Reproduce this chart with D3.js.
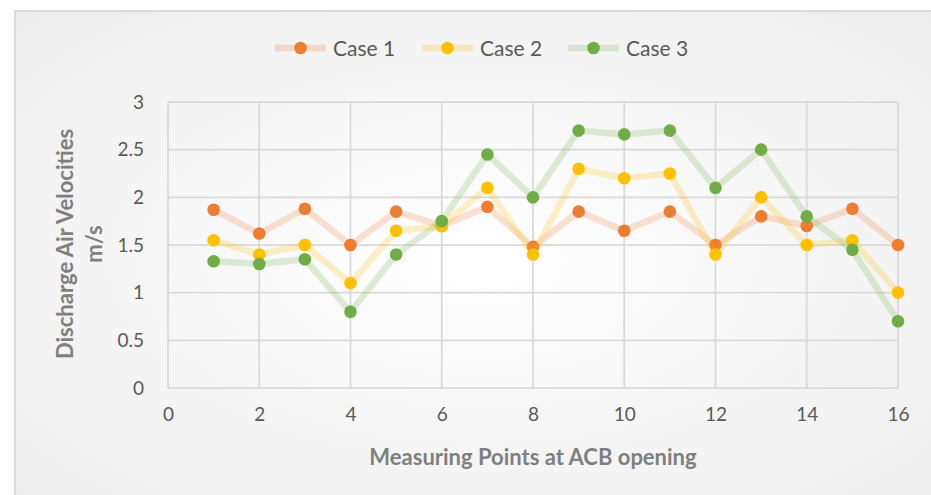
<!DOCTYPE html>
<html>
<head>
<meta charset="utf-8">
<script src="https://cdn.jsdelivr.net/npm/d3@7/dist/d3.min.js"></script>
<style>
  html, body { margin: 0; padding: 0; background: #ffffff; }
  svg { display: block; }
  text { font-family: Lato, "Open Sans", sans-serif; }
</style>
</head>
<body>
<svg id="chart" width="931" height="495"></svg>
<script>
const points = [1, 2, 3, 4, 5, 6, 7, 8, 9, 10, 11, 12, 13, 14, 15, 16];
const case1 = [1.87, 1.62, 1.88, 1.50, 1.85, 1.70, 1.90, 1.48, 1.85, 1.65, 1.85, 1.50, 1.80, 1.70, 1.88, 1.50];
const case2 = [1.55, 1.40, 1.50, 1.10, 1.65, 1.70, 2.10, 1.40, 2.30, 2.20, 2.25, 1.40, 2.00, 1.50, 1.55, 1.00];
const case3 = [1.33, 1.30, 1.35, 0.80, 1.40, 1.75, 2.45, 2.00, 2.70, 2.66, 2.70, 2.10, 2.50, 1.80, 1.45, 0.70];
const seriesNames = ["Case 1", "Case 2", "Case 3"];
const seriesColors = ["#ED7D31", "#FFC000", "#70AD47"];
const xTicks = [0, 2, 4, 6, 8, 10, 12, 14, 16];
const yTicks = [0, 0.5, 1, 1.5, 2, 2.5, 3];
const xTitle = "Measuring Points at ACB opening";
const yTitleLines = ["Discharge Air Velocities", "m/s"];

const series = [case1, case2, case3].map((vals, i) => ({
  name: seriesNames[i], color: seriesColors[i],
  values: vals.map((v, j) => ({ x: points[j], y: v }))
}));

const svg = d3.select("#chart");

// background with soft radial gradient
const defs = svg.append("defs");
const grad = defs.append("radialGradient").attr("id", "bg")
  .attr("cx", "50%").attr("cy", "50%").attr("r", "75%");
grad.append("stop").attr("offset", "0%").attr("stop-color", "#ffffff");
grad.append("stop").attr("offset", "100%").attr("stop-color", "#ececec");

svg.append("rect").attr("x", 15).attr("y", 11).attr("width", 931).attr("height", 500)
  .attr("fill", "url(#bg)").attr("stroke", "#d9d9d9").attr("stroke-width", 2);

const plot = { left: 168, right: 898, top: 102, bottom: 388 };
const x = d3.scaleLinear().domain([0, 16]).range([plot.left, plot.right]);
const y = d3.scaleLinear().domain([0, 3]).range([plot.bottom, plot.top]);

// grid
const grid = svg.append("g");
grid.selectAll(".hg").data(yTicks).enter().append("line")
  .attr("x1", plot.left).attr("x2", plot.right)
  .attr("y1", d => y(d)).attr("y2", d => y(d))
  .attr("stroke", "#d9d9d9").attr("stroke-width", 1.75);
grid.selectAll(".vg").data(xTicks).enter().append("line")
  .attr("y1", plot.top).attr("y2", plot.bottom)
  .attr("x1", d => x(d)).attr("x2", d => x(d))
  .attr("stroke", "#d9d9d9").attr("stroke-width", 1.75);

// axes (labels only)
const yAxis = d3.axisLeft(y).tickValues(yTicks).tickSize(0).tickPadding(24).tickFormat(d3.format("~g"));
const gy = svg.append("g").attr("transform", `translate(${plot.left},0)`).call(yAxis);
gy.select(".domain").remove();
gy.selectAll("text").attr("font-size", 19).attr("fill", "#595959")
  .style("font-family", "Lato, 'Open Sans', sans-serif");

const xAxis = d3.axisBottom(x).tickValues(xTicks).tickSize(0).tickPadding(20).tickFormat(d3.format("~g"));
const gx = svg.append("g").attr("transform", `translate(0,${plot.bottom})`).call(xAxis);
gx.select(".domain").remove();
gx.selectAll("text").attr("font-size", 19).attr("fill", "#595959")
  .style("font-family", "Lato, 'Open Sans', sans-serif");

// axis titles
svg.append("text").attr("x", 533).attr("y", 465).attr("text-anchor", "middle")
  .attr("font-size", 22).attr("font-weight", "bold").attr("fill", "#7f7f7f").text(xTitle);

const yt = svg.append("text").attr("transform", "translate(73,244) rotate(-90)")
  .attr("text-anchor", "middle").attr("font-size", 22).attr("font-weight", "bold").attr("fill", "#7f7f7f");
yTitleLines.forEach((t, i) => yt.append("tspan").attr("x", 0).attr("dy", i === 0 ? 0 : 29).text(t));

// series
const line = d3.line().x(d => x(d.x)).y(d => y(d.y));
series.forEach(s => {
  const g = svg.append("g");
  g.append("path").datum(s.values).attr("d", line)
    .attr("fill", "none").attr("stroke", s.color).attr("stroke-opacity", 0.22)
    .attr("stroke-width", 6.5).attr("stroke-linejoin", "round");
  g.selectAll("circle").data(s.values).enter().append("circle")
    .attr("cx", d => x(d.x)).attr("cy", d => y(d.y)).attr("r", 6.3)
    .attr("fill", s.color);
});

// legend
const legendX = [275, 422, 568];
const lg = svg.append("g");
series.forEach((s, i) => {
  const lx = legendX[i];
  lg.append("line").attr("x1", lx).attr("x2", lx + 51).attr("y1", 48).attr("y2", 48)
    .attr("stroke", s.color).attr("stroke-opacity", 0.22).attr("stroke-width", 6.5);
  lg.append("circle").attr("cx", lx + 25.5).attr("cy", 48).attr("r", 6.3).attr("fill", s.color);
  lg.append("text").attr("x", lx + 58).attr("y", 55.5).attr("font-size", 21)
    .attr("fill", "#595959").text(s.name);
});
</script>
</body>
</html>
